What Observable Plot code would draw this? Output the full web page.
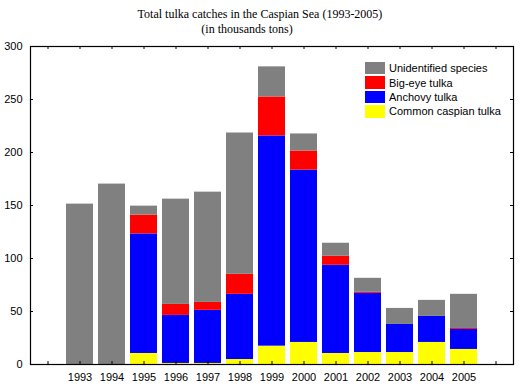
<!DOCTYPE html>
<html>
<head>
<meta charset="utf-8">
<script src="https://cdn.jsdelivr.net/npm/d3@7"></script>
<script src="https://cdn.jsdelivr.net/npm/@observablehq/plot@0.6"></script>
<style>
  html, body { margin: 0; padding: 0; background: #fff; }
  #wrap { position: relative; width: 520px; height: 390px; }
  .title { font-family: "Liberation Serif", "Times New Roman", serif; font-size: 12px; color: #000; position: absolute; left: 0; width: 520px; text-align: center; white-space: nowrap; }
  #legend { position: absolute; left: 365px; top: 61px; font-family: "Liberation Sans", Arial, sans-serif; font-size: 11px; color: #000; }
  .item { display: flex; align-items: center; height: 14.4px; }
  .sw { width: 20px; height: 12.5px; margin-right: 4px; }
</style>
</head>
<body>
<div id="wrap">
  <div class="title" id="t1" style="top:7px; left:0px;"></div>
  <div class="title" id="t2" style="top:22px; left:-13px;"></div>
  <div id="chart" style="position:absolute; left:0; top:40px;"></div>
  <div id="legend"></div>
</div>
<script>
const titleLines = ["Total tulka catches in the Caspian Sea (1993-2005)", "(in thousands tons)"];
const axisYears = [1992, 1993, 1994, 1995, 1996, 1997, 1998, 1999, 2000, 2001, 2002, 2003, 2004, 2005, 2006];
const years = [1993, 1994, 1995, 1996, 1997, 1998, 1999, 2000, 2001, 2002, 2003, 2004, 2005];
const common       = [0, 0, 10.4, 1.0, 1.0, 4.7, 17.3, 20.8, 10.4, 11.3, 11.3, 20.8, 14.2];
const anchovy      = [0, 0, 112.8, 45.3, 50.1, 61.5, 198.3, 162.6, 83.2, 55.8, 26.5, 24.6, 18.9];
const bigeye       = [0, 0, 17.7, 10.4, 7.5, 18.9, 36.8, 18.0, 8.5, 1.0, 0, 0, 0.9];
const unidentified = [151.3, 170.2, 8.5, 99.3, 104.0, 133.3, 28.4, 16.1, 12.3, 13.2, 15.1, 15.1, 32.2];
const seriesNames = ["Common caspian tulka", "Anchovy tulka", "Big-eye tulka", "Unidentified species"];
const seriesColors = ["#ffff00", "#0000ff", "#ff0000", "#808080"];
const yTicks = [0, 50, 100, 150, 200, 250, 300];

document.getElementById("t1").textContent = titleLines[0];
document.getElementById("t2").textContent = titleLines[1];

const seriesValues = [common, anchovy, bigeye, unidentified];
const rows = [];
seriesNames.forEach((name, s) => {
  years.forEach((yr, i) => rows.push({year: yr, series: name, value: seriesValues[s][i]}));
});

const labelFmt = d => years.includes(d) ? String(d) : "";
const font = "'Liberation Sans', Arial, sans-serif";

const W = 520, H = 350, mT = 6, mB = 26, mL = 30, mR = 7;
const innerW = W - mL - mR, innerH = H - mT - mB, tick = 3;

const chart = Plot.plot({
  width: W,
  height: H,
  marginTop: mT,
  marginBottom: mB,
  marginLeft: mL,
  marginRight: mR,
  style: {fontFamily: font, fontSize: "11px", color: "#000", background: "#fff"},
  x: {type: "band", domain: axisYears, paddingInner: 0.16, paddingOuter: 0.08},
  y: {domain: [0, 300]},
  color: {domain: seriesNames, range: seriesColors},
  marks: [
    Plot.barY(rows, {x: "year", y: "value", fill: "series", order: seriesNames}),
    Plot.tickX(axisYears, {x: d => d, stroke: "#000", insetTop: innerH - tick}),
    Plot.tickX(axisYears, {x: d => d, stroke: "#000", insetBottom: innerH - tick}),
    Plot.tickY(yTicks, {y: d => d, stroke: "#000", insetRight: innerW - tick}),
    Plot.tickY(yTicks, {y: d => d, stroke: "#000", insetLeft: innerW - tick}),
    Plot.axisX({anchor: "bottom", tickSize: 0, tickPadding: 9, tickFormat: labelFmt, label: null}),
    Plot.axisY({anchor: "left", ticks: yTicks, tickSize: 0, tickPadding: 8, label: null}),
    Plot.frame({stroke: "#000", strokeWidth: 1.2})
  ]
});
document.getElementById("chart").appendChild(chart);

const legend = document.getElementById("legend");
[3, 2, 1, 0].forEach(i => {
  const item = document.createElement("div");
  item.className = "item";
  const sw = document.createElement("div");
  sw.className = "sw";
  sw.style.background = seriesColors[i];
  const lab = document.createElement("span");
  lab.textContent = seriesNames[i];
  item.appendChild(sw);
  item.appendChild(lab);
  legend.appendChild(item);
});
</script>
</body>
</html>
